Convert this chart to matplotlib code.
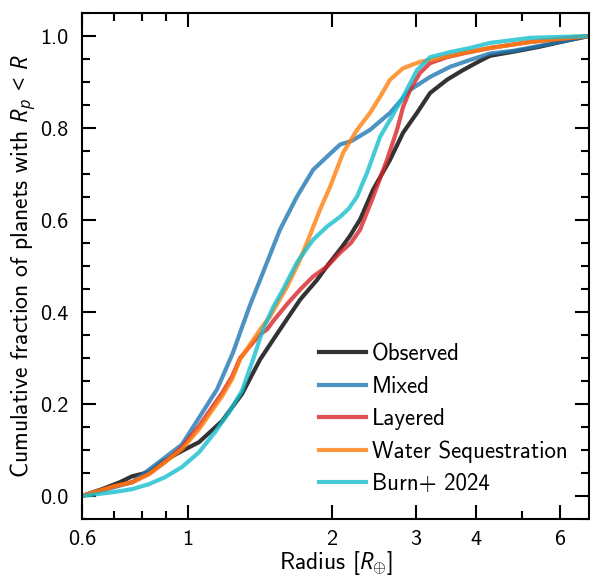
import matplotlib
matplotlib.use("Agg")
import matplotlib.pyplot as plt
from matplotlib.ticker import FixedLocator, FixedFormatter, MultipleLocator

plt.rcParams['font.family'] = ['cmss10', 'DejaVu Sans']
plt.rcParams['mathtext.fontset'] = 'custom'
plt.rcParams['mathtext.rm'] = 'Open Sans'
plt.rcParams['mathtext.sf'] = 'Open Sans'
plt.rcParams['mathtext.it'] = 'Open Sans:italic'
plt.rcParams['axes.formatter.use_mathtext'] = True

# Cumulative fractions (radius in Earth radii)
obs_r = [0.6, 0.661, 0.72, 0.764, 0.829, 0.882, 0.971, 1.054, 1.178, 1.297, 1.415, 1.557,
         1.716, 1.862, 1.97, 2.08, 2.18, 2.29, 2.438, 2.646, 2.818, 3.013, 3.208, 3.482,
         3.762, 4.081, 4.283, 4.8, 5.4, 6.2, 6.9]
obs_f = [0.0, 0.015, 0.03, 0.043, 0.052, 0.074, 0.098, 0.117, 0.163, 0.222, 0.297, 0.362,
         0.427, 0.47, 0.505, 0.536, 0.565, 0.601, 0.666, 0.731, 0.79, 0.833, 0.876, 0.905,
         0.926, 0.946, 0.957, 0.966, 0.976, 0.99, 1.0]

mix_r = [0.6, 0.704, 0.764, 0.870, 0.971, 1.06, 1.15, 1.242, 1.30, 1.348, 1.415, 1.557,
         1.69, 1.826, 1.954, 2.08, 2.2, 2.403, 2.646, 2.914, 3.208, 3.532, 3.89, 4.283,
         4.8, 5.4, 6.2, 6.9]
mix_f = [0.0, 0.02, 0.03, 0.074, 0.112, 0.174, 0.232, 0.312, 0.37, 0.415, 0.47, 0.579,
         0.651, 0.709, 0.738, 0.764, 0.772, 0.796, 0.833, 0.883, 0.911, 0.933, 0.948, 0.962,
         0.968, 0.978, 0.99, 1.0]

lay_r = [0.6, 0.704, 0.764, 0.829, 0.895, 0.971, 1.054, 1.178, 1.236, 1.285, 1.415,
         1.463, 1.506, 1.62, 1.72, 1.826, 1.954, 2.08, 2.19, 2.29, 2.426, 2.608, 2.736,
         2.818, 2.914, 3.058, 3.208, 3.482, 3.8, 4.283, 5.194, 6.9]
lay_f = [0.0, 0.022, 0.03, 0.048, 0.074, 0.106, 0.152, 0.224, 0.26, 0.3, 0.352,
         0.362, 0.38, 0.42, 0.45, 0.477, 0.499, 0.529, 0.55, 0.579, 0.644, 0.731, 0.796,
         0.846, 0.883, 0.92, 0.941, 0.954, 0.963, 0.974, 0.987, 1.0]

wat_r = [0.6, 0.704, 0.764, 0.829, 0.895, 0.971, 1.054, 1.178, 1.236, 1.285, 1.415,
         1.484, 1.611, 1.70, 1.774, 1.889, 1.982, 2.11, 2.257, 2.403, 2.522, 2.646, 2.818,
         3.058, 3.367, 3.762, 4.283, 5.194, 6.9]
wat_f = [0.0, 0.022, 0.03, 0.048, 0.074, 0.102, 0.145, 0.217, 0.254, 0.297, 0.362,
         0.39, 0.455, 0.505, 0.551, 0.623, 0.672, 0.746, 0.796, 0.833, 0.868, 0.905, 0.93,
         0.944, 0.952, 0.963, 0.974, 0.987, 1.0]

burn_r = [0.6, 0.704, 0.764, 0.829, 0.895, 0.971, 1.054, 1.139, 1.218, 1.297, 1.368,
          1.435, 1.506, 1.58, 1.69, 1.826, 1.954, 2.08, 2.17, 2.257, 2.369, 2.522, 2.646,
          2.818, 3.013, 3.208, 3.532, 3.89, 4.283, 5.194, 6.9]
burn_f = [0.0, 0.009, 0.015, 0.026, 0.041, 0.063, 0.095, 0.139, 0.182, 0.229, 0.297,
          0.362, 0.41, 0.449, 0.508, 0.557, 0.586, 0.607, 0.625, 0.651, 0.703, 0.781, 0.818,
          0.868, 0.926, 0.954, 0.965, 0.974, 0.985, 0.996, 1.0]

labels = ["Observed", "Mixed", "Layered", "Water Sequestration", "Burn+ 2024"]
colors = ["k", "tab:blue", "tab:red", "tab:orange", "tab:cyan"]
series = [(obs_r, obs_f), (mix_r, mix_f), (lay_r, lay_f), (wat_r, wat_f), (burn_r, burn_f)]

xticks = [0.6, 1, 2, 3, 4, 6]

fig = plt.figure(figsize=(5.92, 5.78), dpi=100)
ax = fig.add_axes([0.1385, 0.102, 0.8565, 0.8755])

for (r, f), lab, c in zip(series, labels, colors):
    ax.plot(r, f, color=c, lw=3, alpha=0.8, label=lab)

ax.set_xscale("log")
ax.set_xlim(0.6, 6.9)
ax.set_ylim(-0.05, 1.05)
ax.xaxis.set_major_locator(FixedLocator(xticks))
ax.xaxis.set_major_formatter(FixedFormatter([str(t) for t in xticks]))
ax.yaxis.set_major_locator(MultipleLocator(0.2))
ax.yaxis.set_minor_locator(MultipleLocator(0.05))
ax.yaxis.set_major_formatter(plt.FuncFormatter(lambda v, p: f"{v:.1f}"))

ax.tick_params(which="both", direction="in", top=True, right=True, labelsize=16)
ax.tick_params(axis="y", pad=10)
ax.tick_params(axis="x", pad=8)
ax.tick_params(which="major", length=10, width=1.5)
ax.tick_params(which="minor", length=5.5, width=1.5)
for s in ax.spines.values():
    s.set_linewidth(1.5)

ax.set_xlabel(r"Radius [$R_{\oplus}$]", fontsize=17, labelpad=0)
ax.set_ylabel(r"Cumulative fraction of planets with $R_p\,<\,R$", fontsize=17, labelpad=1)

ax.legend(loc="lower right", bbox_to_anchor=(0.985, 0.02), frameon=False, fontsize=16.5,
          handlelength=2.05, handletextpad=0.25, labelspacing=0.45, borderaxespad=0.2)

fig.savefig("out.png", dpi=100)
